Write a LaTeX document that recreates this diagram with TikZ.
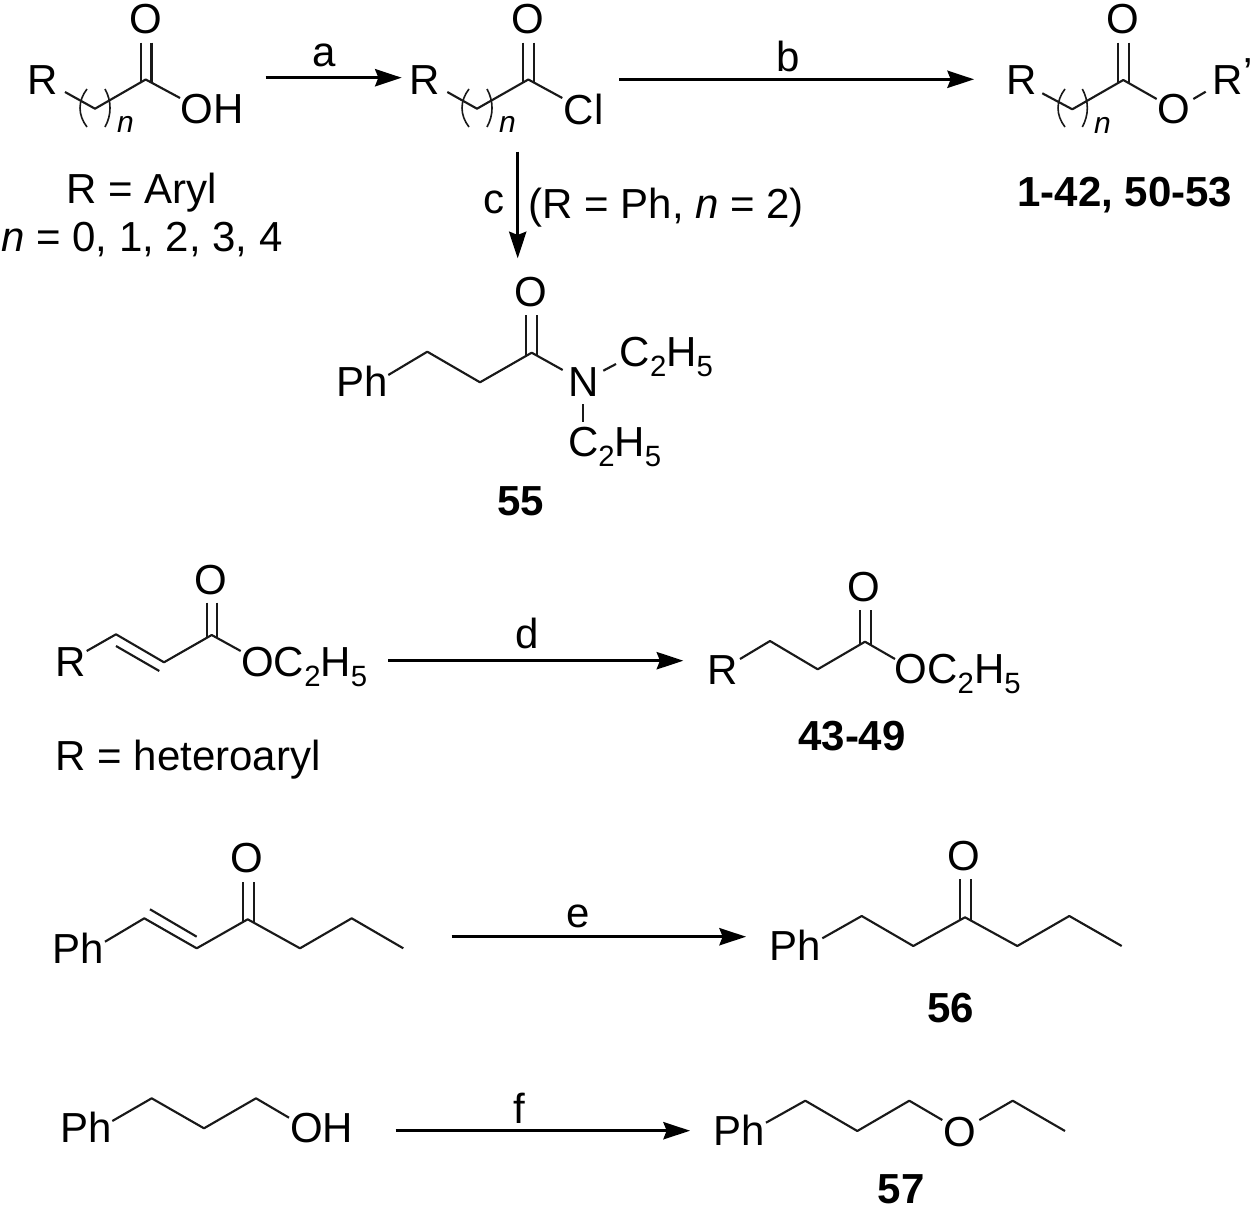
\documentclass[tikz,border=0pt]{standalone}
\usepackage{fontspec}
\setmainfont{Liberation Sans}
\usetikzlibrary{arrows.meta}
\newcommand{\subs}[1]{\raisebox{-7.5pt}{\fontsize{22}{26}\selectfont #1}}
\tikzset{
  txt/.style={inner sep=0pt,outer sep=0pt,font=\fontsize{31.5}{36}\selectfont,text=black},
  lft/.style={txt,anchor=base west},
  ctr/.style={txt,anchor=base},
  cmpd/.style={txt,anchor=base,font=\fontsize{31.5}{36}\selectfont\bfseries},
  idx/.style={inner sep=0pt,outer sep=0pt,anchor=base west,font=\fontsize{22.5}{26}\selectfont\itshape},
  bond/.style={line width=1.6pt,line join=round,draw=black!90},
  paren/.style={line width=1.2pt,draw=black!90},
  rxn/.style={line width=2pt,draw=black,-{Stealth[length=20pt,width=13pt,inset=2.5pt]}}
}
\begin{document}
\begin{tikzpicture}[x=0.75pt,y=-0.75pt]
\useasboundingbox (0,0) rectangle (1250,1210);
\fill[white] (0,0) rectangle (1250,1210);

% ---------- acid
\node[lft] (aR) at (27.7,94) {R};
\node[ctr] (aO) at (145.7,33) {O};
\node[lft] (aOH) at (180.7,123) {OH};
\node[idx] (an) at (117,132) {n};
\node[ctr] (aNote1) at (142,203) {R = Aryl};
\node[ctr] (aNote2) at (142,251) {\itshape n\upshape{} = 0, 1, 2, 3, 4};
\coordinate (a1) at (65,92);
\coordinate (a2) at (95,108.7);
\coordinate (a3) at (145.7,79.5);
\coordinate (a4) at (180,98);
\coordinate (a5) at (140.9,42.5);
\coordinate (a6) at (140.9,82.3);
\coordinate (a7) at (151.5,42.5);
\coordinate (a8) at (151.5,82.3);
\draw[bond] (a1) -- (a2) -- (a3) -- (a4);
\draw[bond] (a5) -- (a6);
\draw[bond] (a7) -- (a8);
\draw[paren] (87,89) .. controls (77.7,101) and (77.7,115) .. (87,127);
\draw[paren] (105,89) .. controls (111.7,101) and (111.7,115) .. (105,127);

% ---------- acid chloride
\node[lft] (bR) at (409.7,94) {R};
\node[ctr] (bO) at (528.3,33) {O};
\node[lft] (bCl) at (563.7,124) {Cl};
\node[idx] (bn) at (499,132) {n};
\coordinate (b1) at (447.3,92);
\coordinate (b2) at (477,108.7);
\coordinate (b3) at (528.3,79.5);
\coordinate (b4) at (562.3,98);
\coordinate (b5) at (523.3,42.5);
\coordinate (b6) at (523.3,82.3);
\coordinate (b7) at (533.8,42.5);
\coordinate (b8) at (533.8,82.3);
\draw[bond] (b1) -- (b2) -- (b3) -- (b4);
\draw[bond] (b5) -- (b6);
\draw[bond] (b7) -- (b8);
\draw[paren] (469,89) .. controls (459.7,101) and (459.7,115) .. (469,127);
\draw[paren] (487,89) .. controls (493.7,101) and (493.7,115) .. (487,127);

% ---------- ester product
\node[lft] (cR) at (1006.4,94) {R};
\node[ctr] (cO) at (1123.3,33) {O};
\node[ctr] (cO2) at (1174.3,123) {O};
\node[lft] (cR2) at (1212.7,94) {R\raisebox{5pt}{'}};
\node[idx] (cn) at (1094,133) {n};
\node[cmpd] (cLab) at (1125,206) {1-42, 50-53};
\coordinate (c1) at (1042.3,93.3);
\coordinate (c2) at (1072.3,109.3);
\coordinate (c3) at (1123.3,80);
\coordinate (c4) at (1156.7,99);
\coordinate (c5) at (1193.3,99);
\coordinate (c6) at (1205.7,91.7);
\coordinate (c7) at (1118.3,42.5);
\coordinate (c8) at (1118.3,82.8);
\coordinate (c9) at (1129,42.5);
\coordinate (c10) at (1129,82.8);
\draw[bond] (c1) -- (c2) -- (c3) -- (c4);
\draw[bond] (c5) -- (c6);
\draw[bond] (c7) -- (c8);
\draw[bond] (c9) -- (c10);
\draw[paren] (1065,89) .. controls (1055.7,101) and (1055.7,115) .. (1065,127);
\draw[paren] (1082.3,89) .. controls (1089,101) and (1089,115) .. (1082.3,127);

% ---------- amide 55
\node[ctr] (dO) at (531,306.7) {O};
\node[lft] (dPh) at (336.8,396.7) {Ph};
\node[lft] (dN) at (568.5,396.7) {N};
\node[lft] (dE1) at (619.7,366.7) {C\subs{2}H\subs{5}};
\node[lft] (dE2) at (568,456.7) {C\subs{2}H\subs{5}};
\node[cmpd] (dLab) at (521,515) {55};
\coordinate (d1) at (388.3,375);
\coordinate (d2) at (427.3,351.7);
\coordinate (d3) at (480,382.3);
\coordinate (d4) at (531.7,352.7);
\coordinate (d5) at (562.7,370);
\coordinate (d6) at (603.3,370.7);
\coordinate (d7) at (616,364);
\coordinate (d8) at (583.3,404.3);
\coordinate (d9) at (583.3,421.7);
\coordinate (d10) at (526.2,315);
\coordinate (d11) at (526.2,355.5);
\coordinate (d12) at (537.2,315);
\coordinate (d13) at (537.2,355.5);
\draw[bond] (d1) -- (d2) -- (d3) -- (d4) -- (d5);
\draw[bond] (d6) -- (d7);
\draw[bond] (d8) -- (d9);
\draw[bond] (d10) -- (d11);
\draw[bond] (d12) -- (d13);

% ---------- acrylate
\node[lft] (eR) at (55.4,676.7) {R};
\node[ctr] (eO) at (210.7,594) {O};
\node[lft] (eOC) at (241.3,676) {OC\subs{2}H\subs{5}};
\node[ctr] (eNote) at (188,770) {R = heteroaryl};
\coordinate (e1) at (86.7,651);
\coordinate (e2) at (116,634.3);
\coordinate (e3) at (164,662.3);
\coordinate (e4) at (211.7,635);
\coordinate (e5) at (240.7,651);
\coordinate (e6) at (116,646);
\coordinate (e7) at (159.3,671);
\coordinate (e8) at (206.7,602.7);
\coordinate (e9) at (206.7,637.8);
\coordinate (e10) at (217.3,602.7);
\coordinate (e11) at (217.3,637.8);
\draw[bond] (e1) -- (e2) -- (e3) -- (e4) -- (e5);
\draw[bond] (e6) -- (e7);
\draw[bond] (e8) -- (e9);
\draw[bond] (e10) -- (e11);

% ---------- saturated ester
\node[lft] (fR) at (707.5,684) {R};
\node[ctr] (fO) at (864.3,601) {O};
\node[lft] (fOC) at (894.7,683.3) {OC\subs{2}H\subs{5}};
\node[cmpd] (fLab) at (852,750) {43-49};
\coordinate (f1) at (740,659);
\coordinate (f2) at (770,641);
\coordinate (f3) at (817.7,669.3);
\coordinate (f4) at (865,641.7);
\coordinate (f5) at (895,659);
\coordinate (f6) at (860,610);
\coordinate (f7) at (860,644.5);
\coordinate (f8) at (870.7,610);
\coordinate (f9) at (870.7,644.5);
\draw[bond] (f1) -- (f2) -- (f3) -- (f4) -- (f5);
\draw[bond] (f6) -- (f7);
\draw[bond] (f8) -- (f9);

% ---------- enone
\node[lft] (gPh) at (52.8,963.3) {Ph};
\node[ctr] (gO) at (247.3,872.7) {O};
\coordinate (g1) at (105,941.7);
\coordinate (g2) at (144.3,918.3);
\coordinate (g3) at (196.7,948.3);
\coordinate (g4) at (247.7,919.3);
\coordinate (g5) at (300,948.3);
\coordinate (g6) at (351.7,918.3);
\coordinate (g7) at (403.3,948.3);
\coordinate (g8) at (150,909.3);
\coordinate (g9) at (196.7,936.7);
\coordinate (g10) at (242.7,882.3);
\coordinate (g11) at (242.7,922);
\coordinate (g12) at (254,882.3);
\coordinate (g13) at (254,922);
\draw[bond] (g1) -- (g2) -- (g3) -- (g4) -- (g5) -- (g6) -- (g7);
\draw[bond] (g8) -- (g9);
\draw[bond] (g10) -- (g11);
\draw[bond] (g12) -- (g13);

% ---------- ketone 56
\node[lft] (hPh) at (769.5,960.7) {Ph};
\node[ctr] (hO) at (964.3,870.7) {O};
\node[cmpd] (hLab) at (950.7,1022.7) {56};
\coordinate (h1) at (822.3,938.3);
\coordinate (h2) at (861.7,916);
\coordinate (h3) at (913.3,946);
\coordinate (h4) at (965,917.3);
\coordinate (h5) at (1017.3,946);
\coordinate (h6) at (1069.3,916);
\coordinate (h7) at (1121.7,946);
\coordinate (h8) at (960,879.3);
\coordinate (h9) at (960,920);
\coordinate (h10) at (970.7,879.3);
\coordinate (h11) at (970.7,920);
\draw[bond] (h1) -- (h2) -- (h3) -- (h4) -- (h5) -- (h6) -- (h7);
\draw[bond] (h8) -- (h9);
\draw[bond] (h10) -- (h11);

% ---------- alcohol
\node[lft] (iPh) at (60.1,1142.7) {Ph};
\node[lft] (iOH) at (290.3,1142.7) {OH};
\coordinate (i1) at (112.3,1121);
\coordinate (i2) at (151.7,1098.3);
\coordinate (i3) at (204,1128.3);
\coordinate (i4) at (256,1098.3);
\coordinate (i5) at (289,1117.7);
\draw[bond] (i1) -- (i2) -- (i3) -- (i4) -- (i5);

% ---------- ether 57
\node[lft] (jPh) at (713.5,1145.7) {Ph};
\node[ctr] (jO) at (960,1146) {O};
\node[cmpd] (jLab) at (901,1203) {57};
\coordinate (j1) at (766,1122.7);
\coordinate (j2) at (805.3,1100.7);
\coordinate (j3) at (857.3,1131);
\coordinate (j4) at (909.3,1100.7);
\coordinate (j5) at (942.3,1120);
\coordinate (j6) at (979.3,1120);
\coordinate (j7) at (1012.7,1100.7);
\coordinate (j8) at (1065,1131);
\draw[bond] (j1) -- (j2) -- (j3) -- (j4) -- (j5);
\draw[bond] (j6) -- (j7) -- (j8);

% ---------- reaction arrows
\coordinate (ra1) at (265.7,77.7);  \coordinate (ra2) at (401.7,77.7);
\coordinate (rb1) at (619.3,79.3);  \coordinate (rb2) at (974,79.3);
\coordinate (rc1) at (517.7,151.7); \coordinate (rc2) at (517.7,258.3);
\coordinate (rd1) at (388.3,660.7); \coordinate (rd2) at (683.3,660.7);
\coordinate (re1) at (451.7,936.7); \coordinate (re2) at (746,936.7);
\coordinate (rf1) at (395.7,1130.7);\coordinate (rf2) at (690,1130.7);
\draw[rxn] (ra1) -- (ra2);
\draw[rxn] (rb1) -- (rb2);
\draw[rxn] (rc1) -- (rc2);
\draw[rxn] (rd1) -- (rd2);
\draw[rxn] (re1) -- (re2);
\draw[rxn] (rf1) -- (rf2);
\node[ctr] (la) at (324,66.7) {a};
\node[ctr] (lb) at (788,71) {b};
\node[ctr] (lc) at (494,213) {c};
\node[lft] (lc2) at (528.5,218) {(R = Ph, \itshape n\upshape{} = 2)};
\node[ctr] (ld) at (527,648) {d};
\node[ctr] (le) at (578.3,927.3) {e};
\node[ctr] (lf) at (519.3,1123.3) {f};
\end{tikzpicture}
\end{document}
